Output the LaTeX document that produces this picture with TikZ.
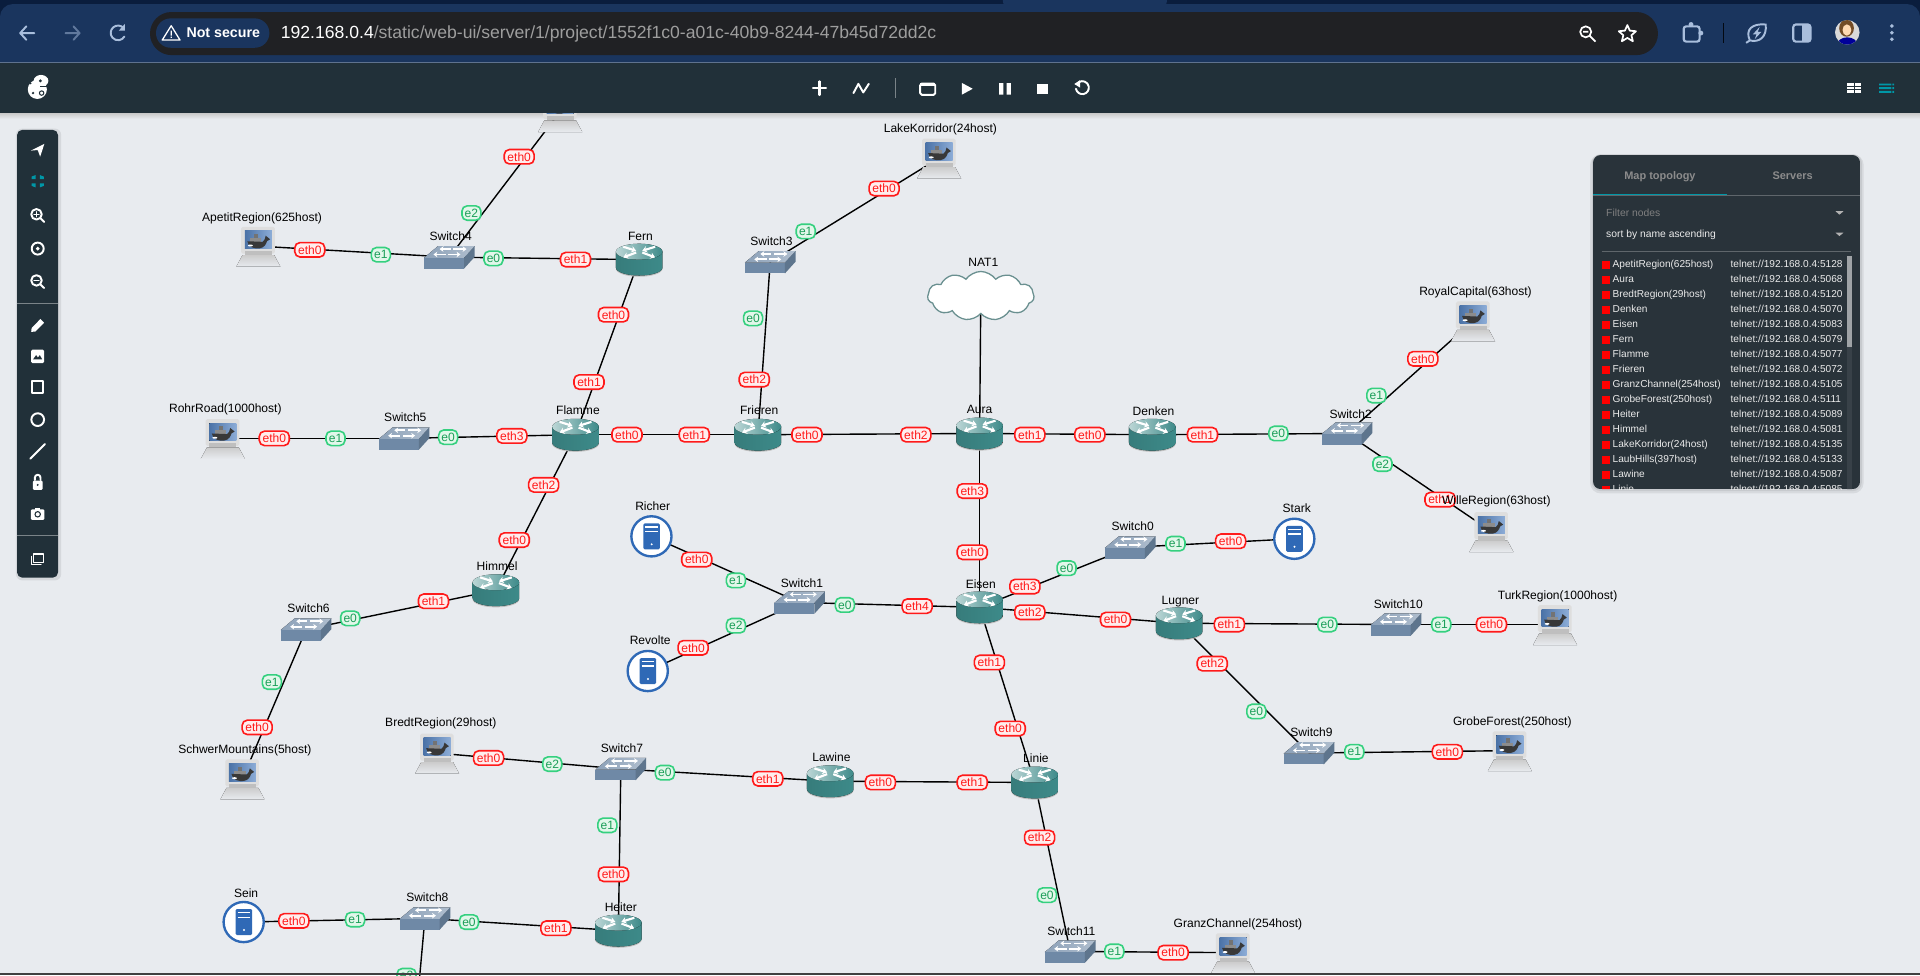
\documentclass[tikz,border=0pt]{standalone}
\usepackage{fontspec}
\setmainfont{Liberation Sans}
\usetikzlibrary{shapes.symbols,arrows.meta,backgrounds}
\definecolor{canvasgrey}{HTML}{E8EBEF}
\definecolor{chromeblue}{HTML}{1A355E}
\definecolor{chromedark}{HTML}{0A1D3D}
\definecolor{chromeicon}{HTML}{A9BEDC}
\definecolor{omnibox}{HTML}{202124}
\definecolor{barslate}{HTML}{213039}
\definecolor{panelslate}{HTML}{29333A}
\definecolor{tealaccent}{HTML}{0097A7}
\definecolor{ethred}{HTML}{FF1A1A}
\definecolor{ethfill}{HTML}{FFEDED}
\definecolor{egreen}{HTML}{35D07F}
\definecolor{efill}{HTML}{E2F7EA}
\definecolor{etext}{HTML}{1B9E58}
\definecolor{routerteal}{HTML}{3D8A89}
\definecolor{switchblue}{HTML}{6F89A6}
\definecolor{serverblue}{HTML}{2F69B6}
\tikzset{
    netlink/.style={black,line width=0.65pt},
    devbox/.style={inner sep=0pt,minimum width=0.6cm,minimum height=0.4cm},
    devlabel/.style={inner sep=0pt,text=black,text height=5.2pt,text depth=1.1pt,font=\fontsize{5.6pt}{6.5pt}\selectfont},
    ethtag/.style={draw=ethred,fill=ethfill,text=ethred,line width=0.75pt,rounded corners=2.4pt,inner sep=0pt,
        minimum width=0.49cm,minimum height=0.235cm,font=\fontsize{5.6pt}{6pt}\selectfont},
    etag/.style={draw=egreen,fill=efill,text=etext,line width=0.75pt,rounded corners=2.4pt,inner sep=0pt,
        minimum width=0.31cm,minimum height=0.235cm,font=\fontsize{5.6pt}{6pt}\selectfont},
    rowtext/.style={inner sep=0pt,anchor=west,text=white!92!black,text height=4.5pt,text depth=1pt,font=\fontsize{4.7pt}{5.5pt}\selectfont},
    tabtext/.style={inner sep=0pt,text=white!55!black,text height=4.8pt,text depth=1.1pt,font=\bfseries\fontsize{5.1pt}{6pt}\selectfont},
    chromeline/.style={draw=chromeicon,line width=0.9pt,line cap=round,line join=round},
    barline/.style={draw=white,line width=0.9pt,line cap=round,line join=round},
    routerpic/.pic={
        \fill[black!25] (-19,-5) -- (-19,7.5) arc[start angle=180,end angle=0,x radius=19,y radius=6.5] -- (19,-5) -- cycle;
        \fill[left color=routerteal!90!black,right color=routerteal] (-19,-6.5) -- (-19,6.5) arc[start angle=180,end angle=0,x radius=19,y radius=6.5] -- (19,-6.5) -- cycle;
        \fill[left color=routerteal!35!white,right color=routerteal] (0,-6.5) ellipse[x radius=19,y radius=6.5];
        \foreach \sx in {-1,1} {
            \draw[white,line width=1pt,-{Stealth[length=2.2pt,width=3pt]}] (\sx*13,-10.5) -- (\sx*2.5,-7.2);
            \draw[white,line width=1pt,-{Stealth[length=2.2pt,width=3pt]}] (\sx*2.5,-5.8) -- (\sx*13,-1.8);
        }
    },
    switchpic/.pic={
        \fill[left color=switchblue!80!white,right color=switchblue!55!white] (-20.7,0.5) -- (-9.3,-9) -- (20.7,-9) -- (12,0.5) -- cycle;
        \fill[switchblue] (-20.7,0.5) rectangle (12,9.3);
        \fill[switchblue!85!black] (12,0.5) -- (20.7,-9) -- (20.7,-0.3) -- (12,9.3) -- cycle;
        \draw[white,line width=0.8pt,{Stealth[length=1.8pt,width=2.6pt]}-] (-8,-6.6) -- (1,-6.6);
        \draw[white,line width=0.8pt,-{Stealth[length=1.8pt,width=2.6pt]}] (3,-6.6) -- (14,-6.6);
        \draw[white,line width=0.8pt,{Stealth[length=1.8pt,width=2.6pt]}-] (-13,-2.2) -- (-3,-2.2);
        \draw[white,line width=0.8pt,-{Stealth[length=1.8pt,width=2.6pt]}] (-1,-2.2) -- (9,-2.2);
    },
    serverpic/.pic={
        \draw[serverblue,fill=white,line width=1.1pt] (0,0) circle[radius=16.4];
        \fill[serverblue,rounded corners=0.6pt] (-6.6,-10.6) rectangle (6.9,10.6);
        \draw[white,line width=0.6pt] (-5,-7.6) -- (5.3,-7.6) (-5,-4) -- (5.3,-4);
        \fill[white] (0.2,6.5) circle[radius=0.9];
    },
    hostpic/.pic={
        \fill[top color=black!20,bottom color=canvasgrey] (-13,7.4) -- (13,7.4) -- (18,16.8) -- (-18,16.8) -- cycle;
        \fill[black!13,rounded corners=0.8pt] (-14,-15.8) rectangle (13.5,6.2);
        \fill[black!25] (-11,4) rectangle (11,7.4);
        \fill[left color=serverblue!80!white!85!black,right color=serverblue!55!white] (-11,-12.5) rectangle (11,2);
        \fill[black!45] (-6.5,-6.5) rectangle (2.5,-3.2);
        \fill[black!55] (-3.5,-10) rectangle (0,-6.5);
        \fill[black!78] (-9,-4) .. controls (-8.5,1) and (-3,2.3) .. (1,1.8) .. controls (5,1.3) and (6.5,-2) .. (7,-4) .. controls (8,-4.5) and (9,-5) .. (9.6,-5.6) .. controls (8,-6.3) and (7,-7) .. (6,-8.5) .. controls (5.5,-6) and (5,-4.5) .. (3.5,-3.5) -- cycle;
        \fill[white] (-6.5,-0.5) ellipse[x radius=2,y radius=0.8];
    }
}
\begin{document}
\begin{tikzpicture}[x=0.02cm,y=-0.02cm]
    \useasboundingbox (0,0) rectangle (1568,796.25);
    % Canvas
    \begin{scope}[on background layer]
        \fill[canvasgrey] (0,92) rectangle (1568,796.25);
        \shade[top color=black!22,bottom color=canvasgrey] (0,92) rectangle (1568,97);
    \end{scope}

    % Interface tags
    \foreach \tagname/\x/\y in {eth0/424/128, eth0/253/204, eth1/470/212, eth0/501/257, eth1/481/312, eth0/722/154,
        eth2/616/310, eth0/224/358, eth3/418/356, eth0/512/355, eth1/567/355, eth0/659/355, eth2/748/355,
        eth1/841/355, eth0/890/355, eth1/982/355, eth0/1162/293, eth1/1176/408, eth3/794/401, eth0/794/451,
        eth2/444/396, eth0/420/441, eth1/354/491, eth0/210/594, eth0/569/457, eth0/566/529, eth4/749/495,
        eth3/837/479, eth0/1005/442, eth2/841/500, eth0/911/506, eth1/1004/510, eth0/1218/510, eth2/990/542,
        eth0/1182/614, eth1/808/541, eth0/825/595, eth0/399/619, eth1/627/636, eth0/719/639, eth1/794/639,
        eth2/849/684, eth0/958/778, eth0/501/714, eth0/240/752, eth1/454/758} {
        \node[ethtag] (tag\x-\y) at (\x,\y) {\tagname};
    }
    \foreach \tagname/\x/\y in {e2/385/174, e1/311/208, e0/403/211, e1/658/189, e0/615/260, e1/274/358, e0/366/357,
        e0/1044/354, e1/1124/323, e2/1129/379, e0/286/505, e1/222/557, e1/601/474, e2/601/511, e0/690/494,
        e0/871/464, e1/960/444, e0/1084/510, e1/1177/510, e0/1026/581, e1/1106/614, e2/451/624, e0/543/631,
        e0/855/731, e1/910/777, e1/496/674, e1/290/751, e0/383/753, e2/332/796.8} {
        \node[etag] (tag\x-\y) at (\x,\y) {\tagname};
    }

    % Routers
    \foreach \devname/\x/\y/\lx/\ly in {Fern/522/212/523/193, Flamme/470/355/472/335, Frieren/619/355/620/335,
        Aura/800/354/800/334, Denken/941/355/942/336, Himmel/405/482/406/462, Eisen/800/496/801/477,
        Lugner/963/509/964/490, Lawine/678/638/679/618, Linie/845/639/846/619, Heiter/505/760/507/741} {
        \node[devbox] (\devname) at (\x,\y) {};
        \pic at (\x,\y) {routerpic};
        \node[devlabel] (l\devname) at (\lx,\ly) {\devname};
    }
    % Switches
    \foreach \devname/\x/\y/\lx/\ly in {Switch0/923/447/925/430, Switch1/653/492/655/476, Switch2/1100/354/1103/338,
        Switch3/629/214/630/197, Switch4/367/210/368/193, Switch5/330/358/331/341, Switch6/250/514/252/497,
        Switch7/507/628/508/611, Switch8/347/750/349/733, Switch9/1069/615/1071/598, Switch10/1140/510/1142/493,
        Switch11/874/777/875/760} {
        \node[devbox] (\devname) at (\x,\y) {};
        \pic at (\x,\y) {switchpic};
        \node[devlabel] (l\devname) at (\lx,\ly) {\devname};
    }
    % Servers
    \foreach \devname/\x/\y/\lx/\ly in {Richer/532/438/533/413, Revolte/529/548/531/523, Stark/1057/440/1059/415,
        Sein/199/753/201/729} {
        \node[devbox] (\devname) at (\x,\y) {};
        \pic at (\x,\y) {serverpic};
        \node[devlabel] (l\devname) at (\lx,\ly) {\devname};
    }
    % Hosts
    \foreach \devname/\x/\y/\lx/\ly/\hosts in {ApetitRegion/211/201/214/177/625host, LakeKorridor/767/129/768/105/24host,
        RohrRoad/182/358/184/333/1000host, RoyalCapital/1203/262/1205/238/63host, WilleRegion/1218/434/1222/408/63host,
        TurkRegion/1270/510/1272/486/1000host, GrobeForest/1233/613/1235/589/250host, BredtRegion/357/615/360/590/29host,
        SchwerMountains/198/636/200/612/5host, GranzChannel/1007/778/1011/754/254host} {
        \node[devbox] (\devname) at (\x,\y) {};
        \pic at (\x,\y) {hostpic};
        \node[devlabel] (l\devname) at (\lx,\ly) {\devname(\hosts)};
    }
    % Host behind the toolbar
    \node[devbox] (LaubHills) at (457.5,91) {};
    \pic at (457.5,91) {hostpic};
    % Cloud
    \node[cloud,cloud puffs=11,cloud puff arc=110,aspect=2.3,draw=routerteal!70!black!70,fill=white,line width=0.6pt,
        inner sep=0pt,minimum width=1.74cm,minimum height=0.8cm] (NAT1) at (801,241.7) {};
    \node[devlabel] (lNAT1) at (803,214) {NAT1};
    \coordinate (Switch8end) at (342.5,800);

    % Links
    \begin{scope}[on background layer]
        \foreach \from/\to in {LaubHills/Switch4, ApetitRegion/Switch4, Switch4/Fern, Fern/Flamme, Switch3/LakeKorridor,
            Switch3/Frieren, RohrRoad/Switch5, Switch5/Flamme, Flamme/Frieren, Frieren/Aura, NAT1/Aura, Aura/Denken,
            Denken/Switch2, Switch2/RoyalCapital, Switch2/WilleRegion, Aura/Eisen, Flamme/Himmel, Himmel/Switch6,
            Switch6/SchwerMountains, Richer/Switch1, Revolte/Switch1, Switch1/Eisen, Eisen/Switch0, Switch0/Stark,
            Eisen/Lugner, Lugner/Switch10, Switch10/TurkRegion, Lugner/Switch9, Switch9/GrobeForest, Eisen/Linie,
            BredtRegion/Switch7, Switch7/Lawine, Lawine/Linie, Linie/Switch11, Switch11/GranzChannel, Switch7/Heiter,
            Sein/Switch8, Switch8/Heiter, Switch8/Switch8end} {
            \draw[netlink] (\from.center) -- (\to.center);
        }
    \end{scope}

    % Browser bar
    \fill[chromedark] (0,0) rectangle (1568,51.5);
    \fill[chromeblue,rounded corners=6pt] (0,3.3) rectangle (1568,70);
    \fill[chromeblue,rounded corners=3pt] (819,-5) rectangle (953,6);
    \fill[barslate] (0,51) rectangle (1568,92);
    \draw[chromeblue!70!white,line width=0.5pt] (0,51) -- (1568,51);
    \fill[omnibox,rounded corners=10pt] (122.5,9.8) rectangle (1354,45);
    \fill[chromeblue,rounded corners=6.8pt] (127.4,15) rectangle (220,39);
    \draw[white,line width=0.6pt,line join=round] (139.8,21) -- (147,32.7) -- (132.5,32.7) -- cycle;
    \fill[white] (139.3,25) rectangle (140.3,29) (139.3,30) rectangle (140.3,31);
    \node[inner sep=0pt,anchor=west,text=white,font=\bfseries\fontsize{6.6pt}{8pt}\selectfont] (notsecure) at (152,27) {Not secure};
    \node[inner sep=0pt,anchor=west,font=\fontsize{8.18pt}{9pt}\selectfont] (urlbox) at (229,27.5) {\textcolor{white}{192.168.0.4}\textcolor{white!62!black}{/static/web-ui/server/1/project/1552f1c0-a01c-40b9-8244-47b45d72dd2c}};
    % Browser icons
    \draw[chromeline] (28,27) -- (16.5,27) (21.5,21.5) -- (16.5,27) -- (21.5,32.5);
    \draw[chromeline,draw=chromeicon!50!chromeblue] (53.5,27) -- (65,27) (60,21.5) -- (65,27) -- (60,32.5);
    \draw[chromeline] (101,23) arc[start angle=-40,end angle=-330,radius=6];
    \fill[chromeicon] (102,19.5) -- (102,25) -- (97,25) -- cycle;
    \draw[white,line width=0.8pt] (1295,26) circle[radius=4.5] (1292.8,26) -- (1297.2,26) (1298.3,29.3) -- (1303,34);
    \draw[white,line width=0.8pt,line join=round] (1329,20.5) -- (1331,25) -- (1336,25.5) -- (1332.3,28.8) -- (1333.5,33.7) -- (1329,31) -- (1324.5,33.7) -- (1325.7,28.8) -- (1322,25.5) -- (1327,25) -- cycle;
    \draw[chromeicon,line width=1pt,rounded corners=1.2pt] (1375,21.5) rectangle (1388,34);
    \fill[chromeicon] (1381,20) circle[radius=2] (1389,27) circle[radius=2];
    \fill[black!70!chromedark] (1407.3,19) rectangle (1408.2,35);
    \draw[chromeicon,line width=0.9pt] (1429,33) .. controls (1425,24) and (1431,19) .. (1442,20) .. controls (1443,30) and (1437,35) .. (1429,33) -- (1426,35);
    \fill[chromeicon] (1437,22) -- (1431.5,28) -- (1434.5,28) -- (1433,32) -- (1438.5,26) -- (1435.5,26) -- cycle;
    \draw[chromeicon,line width=1pt,rounded corners=1.2pt] (1464.5,20) rectangle (1478.5,34);
    \fill[chromeicon] (1472,20) rectangle (1478.5,34);
    \begin{scope}
        \clip (1508.6,26.4) circle[radius=10];
        \fill[black!15] (1498,16) rectangle (1519,37);
        \fill[brown!60!black] (1508,23) ellipse[x radius=6,y radius=7];
        \fill[orange!30!white] (1508.3,24.5) ellipse[x radius=3.6,y radius=4.6];
        \fill[blue!60!black] (1508.6,36) ellipse[x radius=8,y radius=5.5];
    \end{scope}
    \foreach \dotrow in {21.2,26.7,32.1} {
        \fill[chromeicon] (1545,\dotrow) circle[radius=1.6];
    }

    % App toolbar
    \fill[white] (30.5,73) circle[radius=7.8];
    \fill[white] (33.5,66) ellipse[x radius=6,y radius=4.8];
    \fill[barslate] (33,66) circle[radius=1.3];
    \draw[barslate,line width=0.5pt] (33,71) -- (40.5,71);
    \draw[barslate,line width=0.5pt] (34,76) circle[radius=1.8];
    \fill[barslate] (27,76) circle[radius=1.1] (25,68) circle[radius=0.9];
    \draw[barline,line width=1.1pt] (664,72) -- (674.5,72) (669.2,66.5) -- (669.2,77.5);
    \draw[barline] (697,76) -- (701,68.5) -- (705,75.5) -- (709.5,68.5);
    \draw[white!40!barslate,line width=0.4pt] (731,64) -- (731,80);
    \draw[barline,rounded corners=0.8pt] (751.5,68.2) rectangle (763.8,77.5);
    \fill[white] (751.5,68) rectangle (763.8,70.3);
    \fill[white] (785.5,67.7) -- (794.4,72.5) -- (785.5,77.3) -- cycle;
    \fill[white] (816,67.8) rectangle (819.5,77.2) (822,67.8) rectangle (825.5,77.2);
    \fill[white] (847,68.6) rectangle (856,77);
    \draw[barline] (878.7,72.5) arc[start angle=170,end angle=-120,radius=5.3];
    \fill[white] (882,65.5) -- (882,71.5) -- (877.3,68.6) -- cycle;
    \fill[white] (1508.5,68) rectangle (1520,76);
    \draw[barslate,line width=0.4pt] (1508.5,70.6) -- (1520,70.6) (1508.5,73.4) -- (1520,73.4) (1514.2,68) -- (1514.2,76);
    \fill[tealaccent] (1534.6,68.2) rectangle (1544.5,69.8) (1534.6,71.2) rectangle (1544.5,72.8) (1534.6,74.2) rectangle (1544.5,75.8);
    \fill[tealaccent] (1545.5,68.2) rectangle (1546.8,69.8) (1545.5,71.2) rectangle (1546.8,72.8) (1545.5,74.2) rectangle (1546.8,75.8);

    % Left toolbar
    \fill[black,opacity=0.08,rounded corners=3pt] (13,105) rectangle (50,474);
    \fill[barslate,rounded corners=2.5pt] (13.9,106) rectangle (47.4,471.8);
    \draw[white!40!barslate,line width=0.4pt] (13.9,247.7) -- (47.4,247.7) (13.9,437) -- (47.4,437);
    \fill[white] (25.3,123) -- (36.2,117.5) -- (32.8,128) -- (30.8,122.5) -- cycle;
    \foreach \sx/\sy in {-1/-1,1/-1,-1/1,1/1} {
        \fill[tealaccent] (30.8+\sx*1.8,148+\sy*1.8) -- (30.8+\sx*5,148+\sy*1.8) -- (30.8+\sx*5,148+\sy*3.8) -- (30.8+\sx*1.8,148+\sy*5) -- cycle;
    }
    \foreach \iy in {176,230} {
        \draw[barline] (29.8,\iy-1) circle[radius=4.3] (33,\iy+2.2) -- (36,\iy+5.2);
    }
    \draw[barline,line width=0.7pt] (27.8,175) -- (31.8,175) (29.8,173) -- (29.8,177);
    \draw[barline,line width=0.7pt] (27.8,229) -- (31.8,229);
    \draw[barline] (30.8,203) circle[radius=4.9];
    \fill[white] (30.8,203) circle[radius=1.6];
    \fill[white] (25.8,268) -- (33,260.5) -- (36,263.5) -- (28.8,270.8) -- (25.5,271) -- cycle;
    \fill[white,rounded corners=0.6pt] (25.5,285.5) rectangle (36,296.5);
    \fill[barslate] (27,293.5) -- (29.5,290) -- (31,292) -- (32.5,290) -- (34.5,293.5) -- cycle;
    \draw[barline,line cap=butt] (26.3,311.5) rectangle (35.3,320.8);
    \draw[barline] (30.8,342.7) circle[radius=5.2];
    \draw[barline] (24.8,374.6) -- (36.8,362.6);
    \fill[white,rounded corners=0.5pt] (26.8,392.5) rectangle (34.8,400);
    \draw[barline] (28.5,392) -- (28.5,390) arc[start angle=180,end angle=360,radius=2.3] -- (33.1,392);
    \fill[barslate] (30.8,396) circle[radius=0.9];
    \fill[white,rounded corners=0.5pt] (25.3,416) rectangle (36.3,424.5);
    \fill[white] (28.5,414.8) rectangle (33,417);
    \draw[barslate,line width=0.5pt] (30.8,420) circle[radius=2.2];
    \draw[barline,line width=0.6pt] (27.5,452.5) rectangle (35.3,459.3);
    \draw[barline,line width=0.6pt] (25.8,454.5) -- (25.8,460.8) -- (33.5,460.8);

    % Panel
    \fill[black,opacity=0.07,rounded corners=5pt] (1298.5,126) rectangle (1522,403);
    \fill[black,opacity=0.07,rounded corners=4pt] (1300,126) rectangle (1520.5,401);
    \begin{scope}
        \clip[rounded corners=3.5pt] (1301,126.6) rectangle (1519,399.4);
        \fill[panelslate] (1301,126.6) rectangle (1519,399.4);
        \node[tabtext] (maptab) at (1355.6,143) {Map topology};
        \node[tabtext] (serverstab) at (1464,143) {Servers};
        \draw[white!25!panelslate,line width=0.4pt] (1301,159.3) -- (1519,159.3);
        \draw[tealaccent,line width=0.7pt] (1301,159) -- (1410.6,159);
        \node[rowtext,text=white!50!black,font=\fontsize{4.8pt}{5.5pt}\selectfont] (filterbox) at (1311.4,173.7) {Filter nodes};
        \node[rowtext,font=\fontsize{4.8pt}{5.5pt}\selectfont] (sortbox) at (1311.4,191) {sort by name ascending};
        \foreach \ay in {172.5,190} {
            \fill[white!70!black] (1499,\ay) -- (1505.5,\ay) -- (1502.2,\ay+2.8) -- cycle;
        }
        \draw[white!25!panelslate,line width=0.4pt] (1308,205) -- (1512,205);
        \fill[white!7!panelslate] (1508.4,209) rectangle (1512.4,400);
        \fill[white!55!panelslate] (1508.4,209) rectangle (1512.4,283);
        \foreach \rowname/\port [count=\i from 0] in {ApetitRegion(625host)/5128, Aura/5068, BredtRegion(29host)/5120,
            Denken/5070, Eisen/5083, Fern/5079, Flamme/5077, Frieren/5072, GranzChannel(254host)/5105,
            GrobeForest(250host)/5111, Heiter/5089, Himmel/5081, LakeKorridor(24host)/5135, LaubHills(397host)/5133,
            Lawine/5087, Linie/5085} {
            \fill[red] (1308,215.3+\i*12.25-2.5) rectangle (1314.6,215.3+\i*12.25+4);
            \node[rowtext] (row\i) at (1316.7,215.3+\i*12.25) {\rowname};
            \node[rowtext] (port\i) at (1413,215.3+\i*12.25) {telnet://192.168.0.4:\port};
        }
    \end{scope}

    % Window edge
    \fill[black!75] (0,794.9) rectangle (1568,796.25);
\end{tikzpicture}
\end{document}
